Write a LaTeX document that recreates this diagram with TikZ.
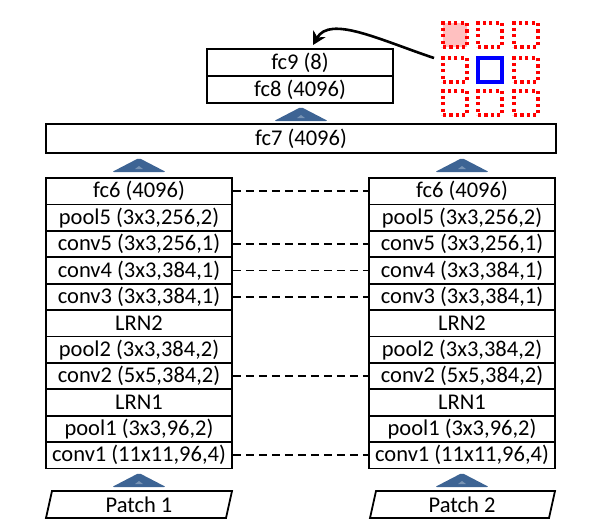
\documentclass[tikz,border=0pt]{standalone}
\usepackage{fontspec}
\setmainfont{Carlito}
\usetikzlibrary{arrows.meta}
\definecolor{triblue}{HTML}{3D6494}
\definecolor{pinkfill}{HTML}{FFC0C0}
\begin{document}
\begin{tikzpicture}[x=1pt,y=-1pt,
  layer/.style={draw, line width=1.8pt, minimum width=186pt, minimum height=26.4pt, inner sep=0pt, font=\fontsize{22.5}{22.5}\selectfont},
  wide/.style={draw, line width=1.8pt, minimum width=510pt, minimum height=29pt, inner sep=0pt, font=\fontsize{22.5}{22.5}\selectfont},
  txt/.style={inner sep=0pt, font=\fontsize{22.5}{22.5}\selectfont},
  link/.style={line width=1.8pt, dash pattern=on 8pt off 5pt},
  redsq/.style={draw=red, line width=3.2pt, dash pattern=on 3.2pt off 3.2pt, minimum size=24pt, inner sep=0pt},
  bluesq/.style={draw=blue, line width=3.2pt, minimum size=24pt, inner sep=0pt},
  pics/uptri/.style={code={\fill[triblue, rounded corners=2pt] (-27,7) -- (0,-7) -- (27,7) -- cycle;
     \fill[triblue!70!white] (-4,4) -- (0,1) -- (4,4) -- cycle;}}
]
\useasboundingbox (0,0) rectangle (604,531);

% two towers
\foreach \t [count=\i] in {{fc6 (4096)},{pool5 (3x3,256,2)},{conv5 (3x3,256,1)},{conv4 (3x3,384,1)},{conv3 (3x3,384,1)},{LRN2},{pool2 (3x3,384,2)},{conv2 (5x5,384,2)},{LRN1},{pool1 (3x3,96,2)},{conv1 (11x11,96,4)}}{
  \node[layer] (L\i) at (139,{178+26.4*(\i-0.5)}) {\t};
  \node[layer] (R\i) at (462,{178+26.4*(\i-0.5)}) {\t};
}

% shared-weight links
\foreach \i in {1,3,4,5,8,11}{
  \draw[link] (L\i.east) -- (R\i.west);
}

% patches
\node[txt] (P1) at (139,505) {Patch 1};
\node[txt] (P2) at (462,505) {Patch 2};
\draw[line width=1.8pt] (52,491) -- (232,491) -- (226,518) -- (46,518) -- cycle;
\draw[line width=1.8pt] (376,491) -- (555,491) -- (549,518) -- (370,518) -- cycle;

% fc7
\node[wide] (fc7) at (301,138.5) {fc7 (4096)};

% fc8 / fc9
\node[layer, minimum height=27pt] (fc9) at (300,62.5) {fc9 (8)};
\node[layer, minimum height=27pt] (fc8) at (300,89.5) {fc8 (4096)};

% upward triangles
\pic at (139,480) {uptri};
\pic at (462,480) {uptri};
\pic at (139,165) {uptri};
\pic at (462,165) {uptri};
\pic at (301,114) {uptri};

% 3x3 grid
\node[redsq, fill=pinkfill] (g11) at (455,35) {};
\node[redsq] (g12) at (490,35) {};
\node[redsq] (g13) at (526,35) {};
\node[redsq] (g21) at (455,70) {};
\node[bluesq] (g22) at (490,70) {};
\node[redsq] (g23) at (526,70) {};
\node[redsq] (g31) at (455,103) {};
\node[redsq] (g32) at (490,103) {};
\node[redsq] (g33) at (526,103) {};

% arrow to fc9
\coordinate (as) at (434,58);
\coordinate (ae) at (313,45);
\draw[line width=2.6pt, -{Stealth[length=13pt,width=14pt]}] (as) .. controls (380,40) and (330,15) .. (ae);
\end{tikzpicture}
\end{document}
